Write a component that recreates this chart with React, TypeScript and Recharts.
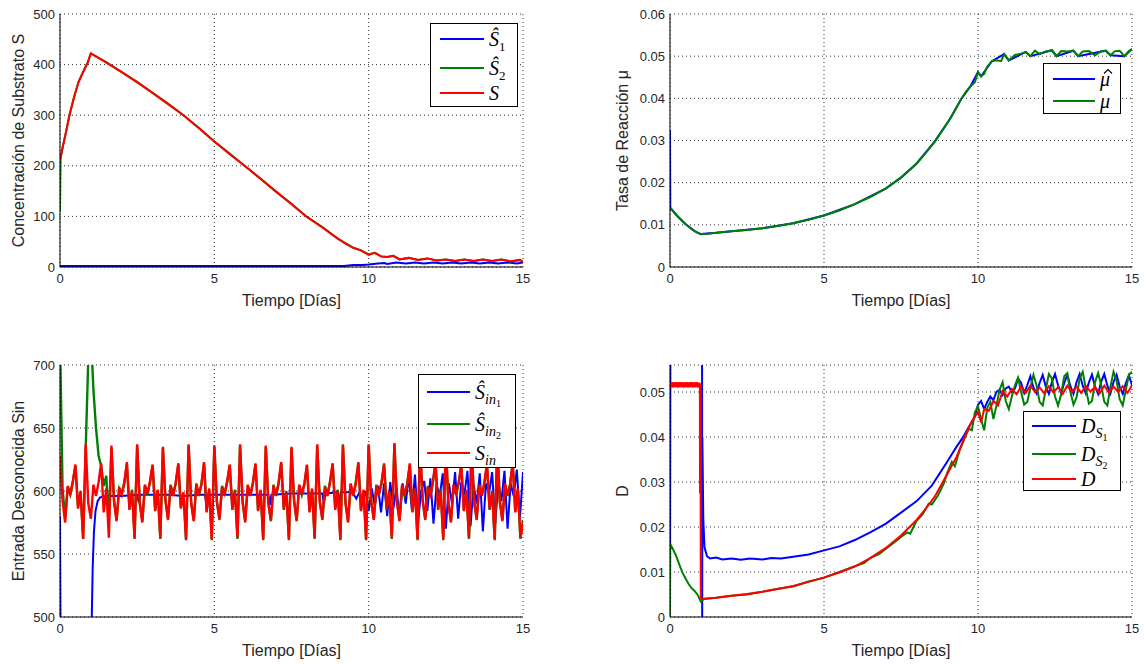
import React from 'react';
import { LineChart, Line, XAxis, YAxis, CartesianGrid, Legend } from 'recharts';

type P = [number, number];

// ---------- ticks ----------
const timeTicks = [0, 5, 10, 15];
const sTicks = [0, 100, 200, 300, 400, 500];
const muTicks = [0, 0.01, 0.02, 0.03, 0.04, 0.05, 0.06];
const sinTicks = [500, 550, 600, 650, 700];
const dTicks = [0, 0.01, 0.02, 0.03, 0.04, 0.05];

// ---------- Panel 1: Concentración de Substrato S ----------
const sS1hat: P[] = [
  [0, 2], [2, 2], [4, 2], [6, 2], [8, 2], [9.2, 2], [9.5, 4], [9.8, 4], [10.0, 5], [10.3, 7], [10.5, 8], [10.6, 6],
  [10.9, 9], [11.2, 7], [11.5, 9], [11.8, 7], [12.1, 9], [12.4, 7], [12.7, 9], [13.0, 7], [13.3, 9], [13.6, 7],
  [13.9, 9], [14.2, 7], [14.5, 9], [14.8, 7], [15, 9],
];
const sS2hat: P[] = [
  [0, 110], [0.02, 215], [0.1, 241], [0.2, 268], [0.3, 299], [0.45, 334], [0.6, 366], [0.75, 386], [0.9, 404], [1.0, 422],
  [1.5, 405], [2, 385], [2.5, 366], [3, 344], [3.5, 323], [4, 300], [4.5, 275], [5, 248], [5.5, 224], [6, 199],
  [6.5, 175], [7, 149], [7.5, 125], [8, 99], [8.5, 79], [9, 56], [9.25, 47], [9.5, 38], [9.75, 33], [10, 25],
  [10.2, 28], [10.4, 21], [10.6, 20], [10.8, 22], [11, 15], [11.3, 18], [11.6, 14], [11.9, 17], [12.2, 13], [12.5, 15],
  [12.8, 12], [13.1, 15], [13.4, 12], [13.7, 15], [14, 12], [14.3, 15], [14.6, 11], [14.9, 14], [15, 10],
];
const sS: P[] = [
  [0, 212], [0.1, 240], [0.2, 268], [0.3, 298], [0.45, 335], [0.6, 365], [0.75, 385], [0.9, 405], [1.0, 422],
  [1.5, 404], [2, 385], [2.5, 365], [3, 344], [3.5, 322], [4, 300], [4.5, 274], [5, 248], [5.5, 223], [6, 199],
  [6.5, 174], [7, 149], [7.5, 124], [8, 99], [8.5, 78], [9, 56], [9.25, 46], [9.5, 38], [9.75, 33], [10, 24],
  [10.2, 28], [10.4, 21], [10.6, 20], [10.8, 22], [11, 15], [11.3, 18], [11.6, 14], [11.9, 17], [12.2, 13], [12.5, 15],
  [12.8, 12], [13.1, 15], [13.4, 12], [13.7, 15], [14, 12], [14.3, 15], [14.6, 11], [14.9, 14], [15, 10],
];

// ---------- Panel 2: Tasa de Reacción μ ----------
const muMain: P[] = [
  [0, 0.0140], [0.1, 0.0132], [0.2, 0.0124], [0.3, 0.0116], [0.4, 0.0109], [0.5, 0.0102], [0.6, 0.0096], [0.7, 0.0090],
  [0.8, 0.0085], [0.9, 0.0081], [1.0, 0.0078], [1.2, 0.0079], [1.5, 0.0081], [2, 0.0085], [2.5, 0.0088], [3, 0.0092],
  [3.5, 0.0097], [4, 0.0104], [4.5, 0.0112], [5, 0.0122], [5.5, 0.0134], [6, 0.0149], [6.5, 0.0166], [7, 0.0186],
  [7.5, 0.0212], [8, 0.0245], [8.3, 0.0270], [8.6, 0.0298], [8.9, 0.0330], [9.1, 0.0352], [9.3, 0.0378], [9.45, 0.0398],
  [9.6, 0.0415], [9.75, 0.0428], [9.9, 0.0438], [10.0, 0.0462], [10.1, 0.0452], [10.2, 0.0458], [10.3, 0.0475],
  [10.45, 0.0488], [10.6, 0.0490], [10.75, 0.0488], [10.85, 0.0505], [11.0, 0.0490], [11.2, 0.0503], [11.4, 0.0506],
  [11.55, 0.0510], [11.7, 0.0500], [11.85, 0.0513], [12.0, 0.0505], [12.2, 0.0511], [12.4, 0.0514], [12.55, 0.0500],
  [12.7, 0.0512], [12.9, 0.0511], [13.1, 0.0513], [13.25, 0.0500], [13.4, 0.0511], [13.6, 0.0512], [13.8, 0.0502],
  [14.0, 0.0512], [14.15, 0.0513], [14.3, 0.0502], [14.45, 0.0512], [14.6, 0.0513], [14.75, 0.0500], [14.9, 0.0512],
  [15.0, 0.0517],
];
const muHat: P[] = [
  [0, 0.0325], [0.01, 0.0141], [0.2, 0.0124], [0.5, 0.0102], [0.8, 0.0085], [1.0, 0.0078], [1.5, 0.0081], [2, 0.0085],
  [3, 0.0092], [4, 0.0104], [5, 0.0122], [6, 0.0149], [7, 0.0186], [7.5, 0.0212], [8, 0.0245], [8.6, 0.0298],
  [9.1, 0.0352], [9.45, 0.0398], [9.75, 0.0428], [10.0, 0.0462], [10.1, 0.0452], [10.45, 0.0488], [10.85, 0.0505],
  [11.0, 0.0490], [11.55, 0.0510], [11.7, 0.0500], [12.4, 0.0514], [12.55, 0.0500], [13.1, 0.0513], [13.25, 0.0500],
  [14.15, 0.0513], [14.3, 0.0502], [14.75, 0.0500], [15.0, 0.0517],
];

// ---------- Panel 3: Entrada Desconocida Sin (sampled every 1/12 day) ----------
const sinSteps = 180;
const sinRed = [
  628, 592, 575, 604, 598, 608, 621, 586, 600, 562,
  637, 590, 578, 605, 596, 607, 622, 583, 602, 563,
  636, 592, 576, 603, 597, 606, 623, 585, 600, 562,
  637, 591, 575, 605, 598, 608, 621, 584, 601, 563,
  635, 593, 577, 604, 596, 607, 622, 586, 599, 562,
  637, 590, 576, 606, 597, 605, 623, 583, 602, 562,
  636, 591, 578, 603, 598, 608, 621, 585, 600, 563,
  637, 592, 575, 605, 596, 606, 622, 584, 601, 562,
  636, 590, 577, 604, 597, 607, 623, 586, 599, 562,
  635, 593, 576, 605, 598, 605, 621, 583, 602, 563,
  637, 591, 578, 603, 596, 608, 622, 585, 600, 562,
  636, 590, 575, 606, 597, 606, 623, 584, 601, 562,
  637, 592, 577, 604, 598, 607, 621, 586, 599, 563,
  638, 591, 576, 605, 596, 605, 622, 583, 602, 562,
  636, 593, 578, 603, 597, 608, 623, 585, 600, 562,
  637, 590, 575, 605, 598, 606, 621, 584, 601, 563,
  635, 592, 577, 604, 596, 607, 622, 586, 599, 562,
  637, 591, 576, 606, 597, 605, 623, 583, 602, 563,
  575,
];
const sinGreen = [
  720, 602, 578, 603, 597, 607, 620, 588, 599, 562,
  634, 705, 725, 680, 650, 628, 620, 604, 612, 575,
  634, 593, 577, 602, 598, 607, 621, 586, 601, 563,
  636, 590, 576, 604, 597, 607, 620, 585, 600, 562,
  634, 592, 578, 605, 597, 606, 621, 587, 598, 561,
  636, 591, 577, 605, 596, 606, 622, 584, 601, 561,
  635, 592, 577, 604, 597, 607, 620, 586, 601, 562,
  636, 591, 576, 604, 597, 607, 621, 585, 600, 561,
  635, 591, 576, 605, 596, 606, 622, 585, 600, 561,
  634, 592, 577, 604, 597, 606, 620, 584, 601, 562,
  636, 592, 577, 604, 597, 607, 621, 586, 601, 561,
  637, 591, 576, 605, 596, 607, 622, 585, 600, 561,
  636, 591, 578, 605, 597, 606, 622, 585, 600, 562,
  637, 592, 577, 604, 597, 606, 621, 584, 601, 561,
  635, 592, 577, 604, 596, 607, 622, 586, 601, 561,
  636, 591, 576, 604, 597, 607, 620, 585, 600, 562,
  634, 591, 578, 605, 597, 606, 621, 585, 600, 561,
  636, 592, 577, 605, 596, 606, 622, 584, 601, 562,
  577,
];
const sinBlue: P[] = [
  [0, 580], [0.02, 480], [1.0, 480], [1.03, 500], [1.06, 540], [1.1, 568], [1.15, 584], [1.22, 592], [1.3, 595],
  [1.5, 596], [2.0, 596], [2.5, 597], [2.55, 591], [2.6, 597], [3.0, 597], [3.5, 597], [4.0, 596], [4.5, 597],
  [4.7, 597], [4.75, 588], [4.8, 597], [5.5, 597], [6.0, 597], [6.5, 597], [6.75, 597], [6.8, 589], [6.85, 597],
  [7.5, 598], [8.0, 598], [8.5, 598], [8.55, 590], [8.6, 598], [9.0, 599], [9.05, 591], [9.1, 599], [9.4, 599],
  [9.5, 598], [9.6, 594], [9.7, 599], [9.8, 592], [9.9, 600], [10.0, 584], [10.1, 602], [10.2, 588], [10.3, 604],
  [10.4, 583], [10.5, 606], [10.6, 580], [10.7, 607], [10.8, 586], [10.9, 603], [11.0, 578], [11.1, 606], [11.2, 590],
  [11.3, 612], [11.4, 585], [11.5, 613], [11.6, 575], [11.7, 600], [11.8, 608], [11.9, 584], [12.0, 610], [12.1, 574],
  [12.2, 605], [12.3, 596], [12.4, 614], [12.5, 570], [12.6, 606], [12.7, 590], [12.8, 615], [12.9, 578], [13.0, 607],
  [13.1, 597], [13.2, 616], [13.3, 572], [13.4, 605], [13.5, 590], [13.6, 614], [13.7, 568], [13.8, 606], [13.9, 598],
  [14.0, 615], [14.1, 574], [14.2, 606], [14.3, 592], [14.4, 616], [14.5, 570], [14.6, 606], [14.7, 596], [14.8, 617],
  [14.9, 578], [15.0, 615],
];

// ---------- Panel 4: D ----------
const dS1: P[] = [
  [0, 0], [0.015, 0.07], [1.04, 0.07], [1.045, 0], [1.05, 0.040], [1.08, 0.022], [1.12, 0.0155], [1.2, 0.0135],
  [1.3, 0.0130], [1.5, 0.0132], [1.7, 0.0128], [2.0, 0.0130], [2.3, 0.0127], [2.6, 0.0130], [3.0, 0.0128],
  [3.3, 0.0131], [3.6, 0.0130], [4.0, 0.0134], [4.5, 0.0139], [5.0, 0.0148], [5.5, 0.0157], [6.0, 0.0171],
  [6.5, 0.0188], [7.0, 0.0207], [7.5, 0.0232], [8.0, 0.0257], [8.5, 0.0292], [9.0, 0.0345], [9.3, 0.0378],
  [9.5, 0.0398], [9.7, 0.0422], [9.9, 0.0445], [10.0, 0.0472], [10.1, 0.0480], [10.2, 0.0462], [10.3, 0.0478],
  [10.4, 0.0490], [10.5, 0.0482], [10.6, 0.0500], [10.7, 0.0505], [10.8, 0.0493], [10.9, 0.0508], [11.0, 0.0512],
  [11.1, 0.0500], [11.2, 0.0508], [11.3, 0.0530], [11.4, 0.0520], [11.5, 0.0498], [11.6, 0.0515], [11.7, 0.0535],
  [11.8, 0.0510], [11.9, 0.0497], [12.0, 0.0520], [12.1, 0.0538], [12.2, 0.0512], [12.3, 0.0496], [12.4, 0.0522],
  [12.5, 0.0540], [12.6, 0.0515], [12.7, 0.0497], [12.8, 0.0520], [12.9, 0.0538], [13.0, 0.0513], [13.1, 0.0496],
  [13.2, 0.0522], [13.3, 0.0540], [13.4, 0.0514], [13.5, 0.0497], [13.6, 0.0521], [13.7, 0.0539], [13.8, 0.0512],
  [13.9, 0.0496], [14.0, 0.0523], [14.1, 0.0540], [14.2, 0.0514], [14.3, 0.0497], [14.4, 0.0522], [14.5, 0.0538],
  [14.6, 0.0512], [14.7, 0.0496], [14.8, 0.0520], [14.9, 0.0537], [15.0, 0.0515],
];
const dS2: P[] = [
  [0, 0], [0.005, 0.0162], [0.1, 0.0150], [0.2, 0.0136], [0.3, 0.0117], [0.4, 0.0099], [0.5, 0.0086], [0.6, 0.0074],
  [0.7, 0.0064], [0.8, 0.0058], [0.9, 0.0049], [1.0, 0.0034], [1.1, 0.0040], [1.5, 0.0043], [2, 0.0047], [2.5, 0.0050],
  [3, 0.0056], [3.5, 0.0063], [4, 0.0068], [4.5, 0.0079], [5, 0.0087], [5.5, 0.0100], [6, 0.0113], [6.3, 0.0120],
  [6.5, 0.0131], [6.8, 0.0140], [7, 0.0151], [7.3, 0.0167], [7.5, 0.0178], [7.7, 0.0188], [7.8, 0.0185], [8.0, 0.0213],
  [8.2, 0.0228], [8.4, 0.0252], [8.5, 0.0250], [8.7, 0.0270], [8.9, 0.0298], [9.0, 0.0320], [9.15, 0.0345],
  [9.25, 0.0335], [9.4, 0.0370], [9.55, 0.0395], [9.7, 0.0418], [9.8, 0.0415], [9.9, 0.0455], [10.0, 0.0468],
  [10.1, 0.0440], [10.2, 0.0415], [10.3, 0.0465], [10.4, 0.0478], [10.5, 0.0440], [10.6, 0.0470], [10.7, 0.0505],
  [10.8, 0.0522], [10.9, 0.0480], [11.0, 0.0462], [11.1, 0.0490], [11.2, 0.0515], [11.3, 0.0532], [11.4, 0.0500],
  [11.5, 0.0472], [11.6, 0.0478], [11.7, 0.0510], [11.8, 0.0538], [11.9, 0.0515], [12.0, 0.0478], [12.1, 0.0470],
  [12.2, 0.0505], [12.3, 0.0540], [12.4, 0.0530], [12.5, 0.0490], [12.6, 0.0470], [12.7, 0.0495], [12.8, 0.0535],
  [12.9, 0.0542], [13.0, 0.0500], [13.1, 0.0472], [13.2, 0.0488], [13.3, 0.0530], [13.4, 0.0545], [13.5, 0.0508],
  [13.6, 0.0474], [13.7, 0.0480], [13.8, 0.0522], [13.9, 0.0542], [14.0, 0.0515], [14.1, 0.0478], [14.2, 0.0470],
  [14.3, 0.0512], [14.4, 0.0545], [14.5, 0.0525], [14.6, 0.0484], [14.7, 0.0470], [14.8, 0.0505], [14.9, 0.0538],
  [15.0, 0.0545],
];
const dMain: P[] = [
  [0, 0.0516], [0.02, 0.0510], [0.04, 0.0521], [0.06, 0.0511], [0.08, 0.0522], [0.1, 0.0510], [0.12, 0.0520],
  [0.14, 0.0512], [0.16, 0.0522], [0.18, 0.0510], [0.2, 0.0521], [0.22, 0.0511], [0.24, 0.0522], [0.26, 0.0510],
  [0.28, 0.0520], [0.3, 0.0511], [0.32, 0.0522], [0.34, 0.0510], [0.36, 0.0521], [0.38, 0.0512], [0.4, 0.0522],
  [0.42, 0.0510], [0.44, 0.0520], [0.46, 0.0511], [0.48, 0.0522], [0.5, 0.0510], [0.52, 0.0521], [0.54, 0.0511],
  [0.56, 0.0522], [0.58, 0.0510], [0.6, 0.0520], [0.62, 0.0512], [0.64, 0.0522], [0.66, 0.0510], [0.68, 0.0521],
  [0.7, 0.0511], [0.72, 0.0522], [0.74, 0.0510], [0.76, 0.0520], [0.78, 0.0511], [0.8, 0.0522], [0.82, 0.0510],
  [0.84, 0.0521], [0.86, 0.0512], [0.88, 0.0522], [0.9, 0.0510], [0.92, 0.0520], [0.94, 0.0511], [0.96, 0.0521],
  [0.97, 0.0515], [0.975, 0.0275], [0.98, 0.0515], [0.99, 0.0515], [1.0, 0.0040], [1.5, 0.0043], [2, 0.0047],
  [2.5, 0.0051], [3, 0.0056], [3.5, 0.0062], [4, 0.0069], [4.5, 0.0078], [5, 0.0088], [5.5, 0.0099], [6, 0.0112],
  [6.5, 0.0131], [7, 0.0153], [7.5, 0.0181], [8, 0.0215], [8.3, 0.0240], [8.6, 0.0268], [9, 0.0318], [9.3, 0.0355],
  [9.6, 0.0405], [9.8, 0.0435], [10.0, 0.0456], [10.1, 0.0432], [10.2, 0.0462], [10.35, 0.0458], [10.5, 0.0480],
  [10.65, 0.0470], [10.8, 0.0502], [10.95, 0.0490], [11.1, 0.0507], [11.25, 0.0495], [11.4, 0.0512], [11.55, 0.0498],
  [11.7, 0.0514], [11.85, 0.0500], [12.0, 0.0510], [12.15, 0.0497], [12.3, 0.0513], [12.45, 0.0499], [12.6, 0.0511],
  [12.75, 0.0496], [12.9, 0.0514], [13.05, 0.0500], [13.2, 0.0512], [13.35, 0.0498], [13.5, 0.0513], [13.65, 0.0501],
  [13.8, 0.0511], [13.95, 0.0497], [14.1, 0.0514], [14.25, 0.0499], [14.4, 0.0512], [14.55, 0.0500], [14.7, 0.0513],
  [14.85, 0.0498], [15.0, 0.0515],
];

// ---------- helpers ----------
const toPts = (a: P[]) => a.map(([t, v]) => ({ t, v }));
const gridPts = (vals: number[]) => vals.map((v, i) => ({ t: (i * 15) / sinSteps, v }));

const FONT = "'Liberation Sans', Arial, Helvetica, sans-serif";
const SERIF = "'Liberation Serif', 'Times New Roman', serif";
const TXT = '#262626';
const BLUE = '#0000ff';
const GREEN = '#008000';
const RED = '#ff0000';

const W = 572;
const H = 332;
const XH = 40;

const subNum: React.CSSProperties = { fontSize: 13, fontStyle: 'normal', verticalAlign: '-0.35em', lineHeight: 0 };
const subIt: React.CSSProperties = { fontSize: 14, fontStyle: 'italic', verticalAlign: '-0.35em', lineHeight: 0 };
const subSub: React.CSSProperties = { fontSize: 10, fontStyle: 'normal', verticalAlign: '-0.3em', lineHeight: 0 };

// circumflex accent drawn as a small shape above the glyph (not text)
function Hat({ children }: { children: React.ReactNode }) {
  return (
    <span style={{ position: 'relative', display: 'inline-block' }}>
      {children}
      <svg width={8} height={5} style={{ position: 'absolute', left: 4, top: 1, overflow: 'visible' }}>
        <polyline points="0,4.5 4,0.5 8,4.5" fill="none" stroke="#000" strokeWidth={1.1} />
      </svg>
    </span>
  );
}

interface SeriesDef { color: string; data: { t: number; v: number }[]; width?: number }
interface LegendItem { color: string; label: React.ReactNode; y: number }
interface LegendDef { left: number; top: number; w: number; h: number; lx0: number; lx1: number; tx: number; items: LegendItem[] }
interface PanelProps {
  x: number; y: number;
  plot: { left: number; top: number; right: number; bottom: number };
  yDomain: [number, number]; yTicks: number[];
  yTitle: string; yTitleX: number; xTitleY: number;
  series: SeriesDef[];
  legend: LegendDef;
}

function LegendBox({ lg }: { lg: LegendDef }) {
  return (
    <div style={{ position: 'relative', width: lg.w, height: lg.h, border: '1px solid #000', background: '#fff', boxSizing: 'border-box' }}>
      {lg.items.map((it, i) => (
        <React.Fragment key={i}>
          <div style={{ position: 'absolute', left: lg.lx0, top: it.y - 1, width: lg.lx1 - lg.lx0, height: 2, background: it.color }} />
          <div style={{ position: 'absolute', left: lg.tx, top: it.y - 11, height: 22, lineHeight: '22px', fontFamily: SERIF, fontStyle: 'italic', fontSize: 20, color: '#000', whiteSpace: 'nowrap' }}>
            {it.label}
          </div>
        </React.Fragment>
      ))}
    </div>
  );
}

const tickStyle = { fontSize: 13, fill: TXT, fontFamily: FONT };

function Panel(p: PanelProps) {
  const { plot } = p;
  const cx = (plot.left + plot.right) / 2;
  const cy = (plot.top + plot.bottom) / 2;
  const lg = p.legend;
  return (
    <div style={{ position: 'absolute', left: p.x, top: p.y, width: W, height: H }}>
      <LineChart width={W} height={H} margin={{ top: plot.top, left: 0, right: W - plot.right, bottom: H - plot.bottom - XH }}>
        <CartesianGrid stroke="#333" strokeDasharray="1 3" strokeWidth={1} />
        <XAxis
          dataKey="t" type="number" domain={[0, 15]} ticks={timeTicks} allowDataOverflow interval={0}
          height={XH} tickLine={false} tickSize={0} tickMargin={7} axisLine={{ stroke: '#000' }} tick={tickStyle}
          label={() => (
            <text x={cx} y={p.xTitleY} textAnchor="middle" dominantBaseline="central" fontSize={16} fill={TXT} fontFamily={FONT}>
              Tiempo [Días]
            </text>
          )}
        />
        <YAxis
          type="number" domain={p.yDomain} ticks={p.yTicks} allowDataOverflow interval={0}
          width={plot.left} tickLine={false} tickSize={0} tickMargin={5} axisLine={{ stroke: '#000' }} tick={tickStyle}
          label={() => (
            <text x={p.yTitleX} y={cy} transform={`rotate(-90 ${p.yTitleX} ${cy})`} textAnchor="middle" dominantBaseline="central" fontSize={16} fill={TXT} fontFamily={FONT}>
              {p.yTitle}
            </text>
          )}
        />
        <XAxis xAxisId="top" orientation="top" type="number" domain={[0, 15]} height={0} tick={false} tickLine={false} axisLine={{ stroke: '#000' }} />
        <YAxis yAxisId="right" orientation="right" type="number" domain={p.yDomain} width={0} tick={false} tickLine={false} axisLine={{ stroke: '#000' }} />
        {p.series.map((s, i) => (
          <Line key={i} data={s.data} dataKey="v" type="linear" stroke={s.color} strokeWidth={s.width ?? 2} dot={false} activeDot={false} isAnimationActive={false} />
        ))}
        <Legend
          layout="vertical" align="center" verticalAlign="middle"
          wrapperStyle={{ position: 'absolute', left: lg.left, top: lg.top, width: lg.w, height: lg.h, margin: 0, padding: 0 }}
          content={() => <LegendBox lg={lg} />}
        />
      </LineChart>
    </div>
  );
}

const Shat = 'Ŝ';

export default function App() {
  const topPlot = { left: 60, top: 14, right: 523, bottom: 267 };
  const topPlotR = { left: 98, top: 14, right: 560, bottom: 267 };
  const botPlot = { left: 60, top: 33, right: 523, bottom: 285 };
  const botPlotR = { left: 98, top: 33, right: 560, bottom: 285 };
  return (
    <div style={{ position: 'absolute', left: 0, top: 0, width: 1144, height: 664, background: '#fff', overflow: 'hidden' }}>
      <Panel
        x={0} y={0} plot={topPlot} yDomain={[0, 500]} yTicks={sTicks}
        yTitle="Concentración de Substrato S" yTitleX={18} xTitleY={300}
        series={[
          { color: BLUE, data: toPts(sS1hat) },
          { color: GREEN, data: toPts(sS2hat) },
          { color: RED, data: toPts(sS) },
        ]}
        legend={{
          left: 430, top: 23, w: 88, h: 84, lx0: 9, lx1: 53, tx: 58,
          items: [
            { color: BLUE, y: 15, label: <span>{Shat}<sub style={subNum}>1</sub></span> },
            { color: GREEN, y: 44, label: <span>{Shat}<sub style={subNum}>2</sub></span> },
            { color: RED, y: 69, label: <span>S</span> },
          ],
        }}
      />
      <Panel
        x={572} y={0} plot={topPlotR} yDomain={[0, 0.06]} yTicks={muTicks}
        yTitle="Tasa de Reacción μ" yTitleX={50} xTitleY={300}
        series={[
          { color: BLUE, data: toPts(muHat) },
          { color: GREEN, data: toPts(muMain) },
        ]}
        legend={{
          left: 471, top: 63, w: 78, h: 51, lx0: 9, lx1: 51, tx: 56,
          items: [
            { color: BLUE, y: 15, label: <Hat>μ</Hat> },
            { color: GREEN, y: 37, label: <span>μ</span> },
          ],
        }}
      />
      <Panel
        x={0} y={332} plot={botPlot} yDomain={[500, 700]} yTicks={sinTicks}
        yTitle="Entrada Desconocida Sin" yTitleX={18} xTitleY={318}
        series={[
          { color: BLUE, data: toPts(sinBlue) },
          { color: GREEN, data: gridPts(sinGreen), width: 2.4 },
          { color: RED, data: gridPts(sinRed), width: 2.4 },
        ]}
        legend={{
          left: 418, top: 42, w: 98, h: 94, lx0: 8, lx1: 51, tx: 56,
          items: [
            { color: BLUE, y: 17, label: <span>{Shat}<sub style={subIt}>in<sub style={subSub}>1</sub></sub></span> },
            { color: GREEN, y: 49, label: <span>{Shat}<sub style={subIt}>in<sub style={subSub}>2</sub></sub></span> },
            { color: RED, y: 78, label: <span>S<sub style={subIt}>in</sub></span> },
          ],
        }}
      />
      <Panel
        x={572} y={332} plot={botPlotR} yDomain={[0, 0.056]} yTicks={dTicks}
        yTitle="D" yTitleX={50} xTitleY={318}
        series={[
          { color: BLUE, data: toPts(dS1) },
          { color: GREEN, data: toPts(dS2) },
          { color: RED, data: toPts(dMain) },
        ]}
        legend={{
          left: 451, top: 79, w: 98, h: 80, lx0: 8, lx1: 52, tx: 57,
          items: [
            { color: BLUE, y: 14, label: <span>D<sub style={subIt}>S<sub style={subSub}>1</sub></sub></span> },
            { color: GREEN, y: 42, label: <span>D<sub style={subIt}>S<sub style={subSub}>2</sub></sub></span> },
            { color: RED, y: 67, label: <span>D</span> },
          ],
        }}
      />
    </div>
  );
}
